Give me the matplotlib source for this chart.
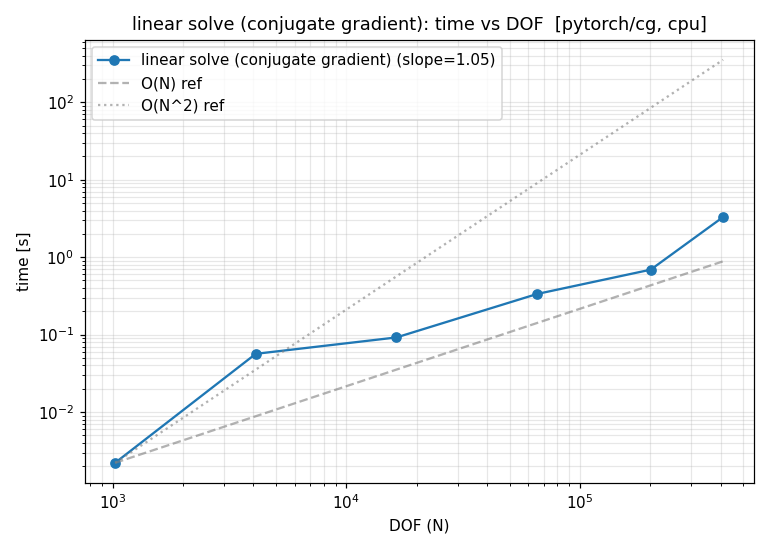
import matplotlib
matplotlib.use("Agg")
import matplotlib.pyplot as plt

dof = [1024, 4096, 16384, 65536, 200704, 409600]
time_s = [0.00221, 0.0565, 0.092, 0.335, 0.69, 3.3]
ref_n = [0.00221, 0.00884, 0.03536, 0.1414, 0.4332, 0.884]
ref_n2 = [0.00221, 0.03536, 0.5658, 9.05, 84.9, 353.6]

fig, ax = plt.subplots(figsize=(7, 5), dpi=110)
ax.plot(dof, time_s, marker="o", color="#1f77b4",
        label="linear solve (conjugate gradient) (slope=1.05)")
ax.plot(dof, ref_n, linestyle="--", color="gray", alpha=0.6, label="O(N) ref")
ax.plot(dof, ref_n2, linestyle=":", color="gray", alpha=0.6, label="O(N^2) ref")
ax.set_xscale("log")
ax.set_yscale("log")
ax.grid(True, which="both", alpha=0.3)
ax.set_xlabel("DOF (N)")
ax.set_ylabel("time [s]")
ax.set_title("linear solve (conjugate gradient): time vs DOF  [pytorch/cg, cpu]",
             fontsize=11.6)
ax.legend(loc="upper left")
fig.tight_layout()
fig.savefig("out.png", dpi=110)
